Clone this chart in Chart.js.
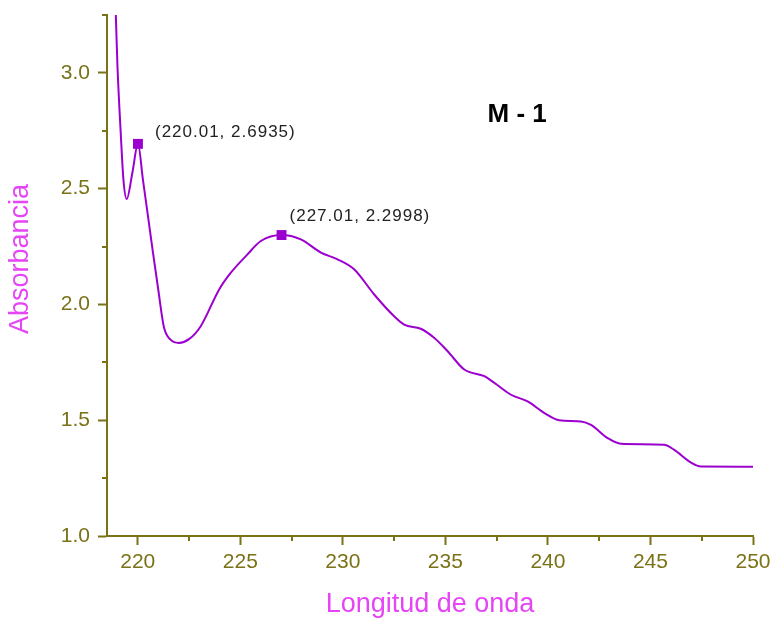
<!DOCTYPE html>
<html>
<head>
<meta charset="utf-8">
<script src="https://cdn.jsdelivr.net/npm/chart.js"></script>
<style>
  html, body { margin: 0; padding: 0; background: #ffffff; }
  #wrap { width: 774px; height: 618px; }
</style>
</head>
<body>
<div id="wrap"><canvas id="specChart" width="774" height="618"></canvas></div>
<script>
// wavelength (nm) and absorbance
const wavelength = [218.85, 218.93, 219.01, 219.17, 219.30, 219.46, 219.74, 220.01, 220.25, 220.50,
    220.74, 220.99, 221.28, 221.60, 222.00, 222.50, 223.07, 223.97, 224.54, 225.35,
    226.00, 227.01, 227.95, 228.93, 229.74, 230.55, 231.53, 232.50, 232.99, 233.80,
    234.45, 235.11, 235.92, 236.90, 237.39, 238.20, 239.01, 239.83, 240.55, 241.61,
    242.10, 242.91, 243.56, 245.67, 246.16, 246.98, 247.46, 250.00];
const absorbance = [3.45, 3.25, 3.03, 2.74, 2.54, 2.455, 2.57, 2.6935, 2.54, 2.38,
    2.225, 2.07, 1.90, 1.848, 1.834, 1.850, 1.906, 2.065, 2.137, 2.216,
    2.274, 2.2998, 2.281, 2.224, 2.195, 2.152, 2.043, 1.949, 1.913, 1.895,
    1.856, 1.798, 1.719, 1.690, 1.661, 1.610, 1.581, 1.531, 1.500, 1.495,
    1.480, 1.423, 1.398, 1.394, 1.372, 1.317, 1.300, 1.299];

// labelled peaks
const peakX = [220.01, 227.01];
const peakY = [2.6935, 2.2998];

const xTicks = [220, 225, 230, 235, 240, 245, 250];
const yTicks = [1.0, 1.5, 2.0, 2.5, 3.0];

const lineColor = '#9b00cf';
const axisColor = '#7a7217';
const titleColor = '#e545f5';
const fontFamily = '"Liberation Sans", Arial, sans-serif';

document.addEventListener('DOMContentLoaded', function() {
    const ctx = document.getElementById('specChart');

    // label offsets from each peak marker, in pixels
    const labelShift = [[17, -12], [8, -19]];

    // minor ticks, y title, peak labels and the sample name
    const extras = {
        id: 'extras',
        afterDraw(chart) {
            const c = chart.ctx;
            const xs = chart.scales.x;
            const ys = chart.scales.y;
            const area = chart.chartArea;
            c.save();
            c.strokeStyle = axisColor;
            c.lineWidth = 2;
            for (let i = 0; i < xTicks.length - 1; i++) {
                const px = Math.round(xs.getPixelForValue((xTicks[i] + xTicks[i + 1]) / 2));
                c.beginPath();
                c.moveTo(px, area.bottom);
                c.lineTo(px, area.bottom + 5);
                c.stroke();
            }
            const minorY = [1.25, 1.75, 2.25, 2.75, 3.25];
            minorY.forEach(function(v) {
                const py = Math.round(ys.getPixelForValue(v));
                c.beginPath();
                c.moveTo(area.left, py);
                c.lineTo(area.left - 5, py);
                c.stroke();
            });

            // y axis title
            c.save();
            c.translate(21, 259);
            c.rotate(-Math.PI / 2);
            c.fillStyle = titleColor;
            c.font = '27px ' + fontFamily;
            c.textAlign = 'center';
            c.textBaseline = 'middle';
            c.fillText('Absorbancia', 0, 0);
            c.restore();

            c.fillStyle = '#222222';
            c.font = '17px ' + fontFamily;
            c.letterSpacing = '1px';
            c.textBaseline = 'middle';
            c.textAlign = 'left';
            for (let i = 0; i < peakX.length; i++) {
                const px = xs.getPixelForValue(peakX[i]);
                const py = ys.getPixelForValue(peakY[i]);
                c.fillText('(' + peakX[i].toFixed(2) + ', ' + peakY[i].toFixed(4) + ')',
                    px + labelShift[i][0], py + labelShift[i][1]);
            }
            c.letterSpacing = '0px';

            c.fillStyle = '#000000';
            c.font = 'bold 26px ' + fontFamily;
            c.textAlign = 'center';
            c.fillText('M - 1', area.left + (area.right - area.left) * 0.635, area.top + 100);
            c.restore();
        }
    };

    new Chart(ctx, {
        type: 'line',
        data: {
            datasets: [
                {
                    label: 'M - 1',
                    data: wavelength.map((x, i) => ({ x: x, y: absorbance[i] })),
                    borderColor: lineColor,
                    borderWidth: 2,
                    pointRadius: 0,
                    cubicInterpolationMode: 'monotone',
                    fill: false
                },
                {
                    label: 'picos',
                    data: peakX.map((x, i) => ({ x: x, y: peakY[i] })),
                    showLine: false,
                    pointStyle: 'rect',
                    pointRadius: 7,
                    pointBackgroundColor: lineColor,
                    pointBorderColor: lineColor,
                    pointBorderWidth: 0
                }
            ]
        },
        options: {
            responsive: false,
            animation: false,
            devicePixelRatio: 1,
            layout: { padding: { top: 15, right: 21, left: 0, bottom: 0 } },
            scales: {
                x: {
                    type: 'linear',
                    min: 218.5,
                    max: 250,
                    afterBuildTicks: function(scale) {
                        scale.ticks = xTicks.map(v => ({ value: v }));
                    },
                    afterFit: function(scale) {
                        scale.height = 82;
                        scale.paddingLeft = 0;
                        scale.paddingRight = 0;
                    },
                    grid: {
                        display: true,
                        drawOnChartArea: false,
                        drawTicks: true,
                        tickLength: 9,
                        tickWidth: 2,
                        tickColor: axisColor
                    },
                    border: { display: true, color: axisColor, width: 2 },
                    ticks: {
                        color: axisColor,
                        padding: 5,
                        maxRotation: 0,
                        font: { family: fontFamily, size: 21 },
                        callback: v => String(v)
                    },
                    title: {
                        display: true,
                        text: 'Longitud de onda',
                        color: titleColor,
                        padding: { top: 0, bottom: -3 },
                        font: { family: fontFamily, size: 27 }
                    }
                },
                y: {
                    type: 'linear',
                    min: 1.0,
                    max: 3.25,
                    afterBuildTicks: function(scale) {
                        scale.ticks = yTicks.map(v => ({ value: v }));
                    },
                    afterFit: function(scale) {
                        scale.width = 107;
                        scale.paddingTop = 0;
                        scale.paddingBottom = 0;
                    },
                    grid: {
                        display: true,
                        drawOnChartArea: false,
                        drawTicks: true,
                        tickLength: 9,
                        tickWidth: 2,
                        tickColor: axisColor
                    },
                    border: { display: true, color: axisColor, width: 2 },
                    ticks: {
                        color: axisColor,
                        padding: 8,
                        font: { family: fontFamily, size: 21 },
                        callback: v => Number(v).toFixed(1)
                    },
                    title: { display: false }
                }
            },
            plugins: {
                legend: { display: false },
                tooltip: { enabled: false }
            }
        },
        plugins: [extras]
    });
});
</script>
</body>
</html>
